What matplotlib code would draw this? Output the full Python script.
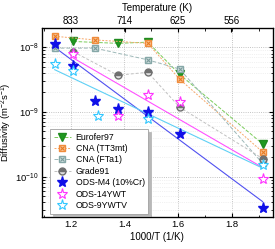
import numpy as np
import matplotlib.pyplot as plt
from matplotlib.ticker import LogLocator, NullFormatter, MultipleLocator
from matplotlib.legend_handler import HandlerTuple

plt.rcParams['font.family'] = ['Liberation Sans', 'DejaVu Sans']
plt.rcParams['font.size'] = 6.5
plt.rcParams['mathtext.fontset'] = 'custom'
plt.rcParams['mathtext.rm'] = 'Liberation Sans'
plt.rcParams['mathtext.it'] = 'Liberation Sans:italic'
plt.rcParams['mathtext.default'] = 'regular'

# 1000/T (1/K) and diffusivity (m2/s)
x_euro = [1.21, 1.375, 1.487, 1.606, 1.915]
d_euro = [1.23e-8, 1.15e-8, 1.2e-8, 3.8e-9, 3.2e-10]
x_tt3 = [1.14, 1.29, 1.487, 1.606, 1.915]
d_tt3 = [1.48e-8, 1.3e-8, 1.15e-8, 3.2e-9, 2.4e-10]
x_fta = [1.14, 1.29, 1.487, 1.606, 1.915]
d_fta = [9.7e-9, 9.7e-9, 6.4e-9, 4.6e-9, 1.6e-10]
x_g91 = [1.21, 1.375, 1.487, 1.606, 1.915]
d_g91 = [8.5e-9, 3.7e-9, 4.1e-9, 1.18e-9, 1.9e-10]
x_m4 = [1.14, 1.21, 1.29, 1.375, 1.487, 1.606, 1.915]
d_m4 = [1.12e-8, 5.1e-9, 1.45e-9, 1.1e-9, 1.0e-9, 4.6e-10, 3.3e-11]
x_14y = [1.21, 1.375, 1.487, 1.606, 1.915]
d_14y = [8.0e-9, 8.6e-10, 1.85e-9, 1.4e-9, 9.3e-11]
x_9y = [1.14, 1.21, 1.30, 1.487, 1.915]
d_9y = [5.5e-9, 4.3e-9, 8.6e-10, 7.7e-10, 1.5e-10]

# fitted lines for the ODS steels (end points)
fit_x_m4 = [1.14, 1.915]
fit_m4 = [1.0e-8, 4.1e-11]
fit_x_14y = [1.21, 1.915]
fit_14y = [6.8e-9, 1.38e-10]
fit_x_9y = [1.14, 1.915]
fit_9y = [4.5e-9, 1.35e-10]

temps = [833, 714, 625, 556]

fig = plt.figure(figsize=(2.75, 2.49), dpi=100)
ax = fig.add_axes([0.153, 0.130, 0.839, 0.756])

ax.plot(fit_x_m4, fit_m4, '-', color='#5050f0', lw=0.8)
ax.plot(fit_x_14y, fit_14y, '-', color='#ff50ff', lw=0.8)
ax.plot(fit_x_9y, fit_9y, '-', color='#5fd0f5', lw=0.8)

h_euro, = ax.plot(x_euro, d_euro, '--', color='#7acc5a', lw=0.7, marker='v',
                  ms=6, mfc='#1f9a1f', mec='#1f8a1f')
h_tt3a, = ax.plot(x_tt3, d_tt3, '--', color='#f7a86a', lw=0.7, marker='s',
                  ms=5, mfc='#f9c9a0', mec='#f08c3c', dashes=(2, 1.5))
h_tt3b, = ax.plot(x_tt3, d_tt3, ls='none', marker='x', ms=3.5, mec='#e87a20', mew=0.8)
h_ftaa, = ax.plot(x_fta, d_fta, '--', color='#9db8b8', lw=0.7, marker='s',
                  ms=5, mfc='#d8e6e6', mec='#86a8a8', dashes=(4, 2))
h_ftab, = ax.plot(x_fta, d_fta, ls='none', marker='x', ms=3.5, mec='#7a9a9a', mew=0.8)
h_g91, = ax.plot(x_g91, d_g91, '--', color='#c0c0c0', lw=0.7, marker='o', ms=5,
                 fillstyle='top', mfc='#707070', mfcalt='#e0e0e0', mec='#707070', dashes=(3, 2))
h_m4, = ax.plot(x_m4, d_m4, ls='none', marker='*', ms=8, mfc='#1010e8', mec='#1010e8')
h_14y, = ax.plot(x_14y, d_14y, ls='none', marker='*', ms=8, mfc='white', mec='#ff33ff', mew=0.8)
h_9y, = ax.plot(x_9y, d_9y, ls='none', marker='*', ms=8, mfc='white', mec='#33c8ff', mew=0.8)

ax.set_yscale('log')
ax.set_xlim(1.093, 1.953)
ax.set_ylim(2.4e-11, 1.96e-8)
ax.xaxis.set_major_locator(MultipleLocator(0.2))
ax.xaxis.set_minor_locator(MultipleLocator(0.1))
ax.yaxis.set_minor_locator(LogLocator(base=10, subs=np.arange(2, 10), numticks=20))
ax.yaxis.set_minor_formatter(NullFormatter())
ax.set_yticks([1e-10, 1e-9, 1e-8])
ax.tick_params(which='both', direction='in', right=True)
ax.tick_params(which='major', length=3, width=0.8, labelsize=6.8, pad=2.5)
ax.tick_params(which='minor', length=1.8, width=0.6)
ax.grid(which='major', ls=':', color='#b0b0b0', lw=0.6)
ax.grid(which='minor', axis='y', ls=':', color='#e4e4e4', lw=0.5)
for s in ax.spines.values():
    s.set_linewidth(0.9)

ax.set_xlabel('1000/T (1/K)', labelpad=2, fontsize=7)
ax.set_ylabel('Diffusivity (m$^{-2}$s$^{-1}$)', labelpad=0.5, fontsize=6.8)

top = ax.twiny()
top.set_xlim(ax.get_xlim())
top.set_xticks(1000 / np.array(temps))
top.set_xticklabels([str(t) for t in temps])
top.xaxis.set_minor_locator(MultipleLocator(0.1))
top.tick_params(which='both', direction='in')
top.tick_params(which='major', length=3, width=0.8, pad=2, labelsize=7)
top.tick_params(which='minor', length=1.8, width=0.6)
top.set_xlabel('Temperature (K)', labelpad=3, fontsize=7)

leg = ax.legend([h_euro, (h_tt3a, h_tt3b), (h_ftaa, h_ftab), h_g91, h_m4, h_14y, h_9y],
                ['Eurofer97', 'CNA (TT3mt)', 'CNA (FTa1)', 'Grade91',
                 'ODS-M4 (10%Cr)', 'ODS-14YWT', 'ODS-9YWTV'],
                handler_map={tuple: HandlerTuple(ndivide=1)},
                loc='upper left', bbox_to_anchor=(0.035, 0.465), fontsize=6.3,
                frameon=True, fancybox=False, shadow={'color': '#b8b8b8', 'alpha': 1},
                handlelength=2.0, labelspacing=0.28, borderpad=0.4,
                handletextpad=0.5, borderaxespad=0)
leg.get_frame().set_edgecolor('#a0a0a0')
leg.get_frame().set_linewidth(0.6)

fig.savefig('out.png', dpi=100)
